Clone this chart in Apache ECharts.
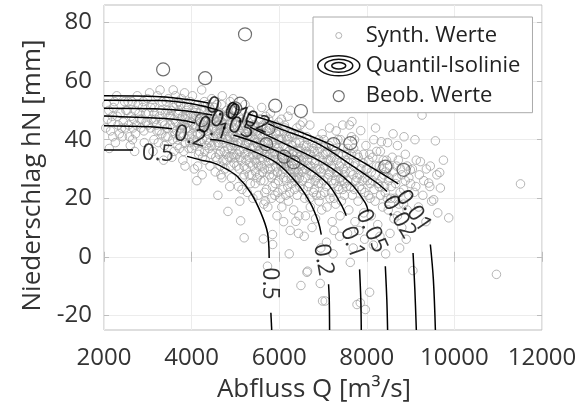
<!DOCTYPE html>
<html>
<head>
<meta charset="utf-8">
<script src="https://cdn.jsdelivr.net/npm/echarts@6/dist/echarts.min.js"></script>
<style>
  html, body { margin: 0; padding: 0; background: #fff; }
  #chart { width: 588px; height: 408px; }
</style>
</head>
<body>
<div id="chart"></div>
<script>
// Achsenbeschriftung
const xTicks = [2000, 4000, 6000, 8000, 10000, 12000]
const yTicks = [-20, 0, 20, 40, 60, 80]

// synthetische Werte [Q, hN]
const synthValues = [
  [2080,47],[2150,43],[2210,51],[2260,39],[2320,45],[2380,49],[2420,41],[2470,53],[2120,37],[2290,55],[2440,46],[2190,48],[2350,42],[2060,52],[2480,44],
  [2530,50],[2560,45],[2600,38],[2640,53],[2680,47],[2720,42],[2760,55],[2800,49],[2840,44],[2880,51],[2920,39],[2960,46],[2580,41],[2700,36],[2780,52],[2860,47],[2990,54],[2620,48],[2740,45],[2910,43],
  [3020,49],[3060,44],[3100,52],[3140,40],[3180,47],[3220,55],[3260,43],[3300,50],[3340,46],[3380,38],[3420,53],[3460,41],[3490,48],[3040,56],[3120,36],[3200,45],[3280,57],[3320,42],[3400,49],[3440,44],[3080,47],[3160,51],[3360,33],[3240,39],[3470,54],
  [2040,44],[2110,50],[2170,46],[2240,53],[2300,48],[2400,44],[2500,50],[2550,53],[2660,44],[2710,50],[2820,47],[2900,53],[2950,49],[3010,45],[3070,51],[3150,49],[3210,43],[3270,48],[3330,53],[3390,45],[3450,50],[2200,41],[2650,40],[3130,46],[3410,41],
  [3510,45],[3540,50],[3570,40],[3600,47],[3630,55],[3660,43],[3690,49],[3720,37],[3750,52],[3780,45],[3810,41],[3840,56],[3870,48],[3900,44],[3930,51],[3960,39],[3990,46],[3550,34],[3620,42],[3700,53],[3760,47],[3820,36],[3880,50],[3940,43],[3580,57],[3680,40],[3740,44],[3850,31],[3910,48],[3970,53],
  [3520,48],[3560,44],[3590,51],[3640,46],[3670,38],[3710,50],[3730,42],[3770,54],[3790,48],[3830,45],[3860,39],[3890,52],[3920,46],[3950,41],[3980,49],[3600,36],[3800,33],[3650,52],[3850,47],[3940,37],
  [4010,42],[4040,48],[4070,38],[4100,45],[4130,52],[4160,35],[4190,44],[4220,50],[4250,40],[4280,47],[4310,33],[4340,43],[4370,49],[4400,37],[4430,46],[4460,54],[4490,41],[4020,55],[4060,30],[4110,39],[4150,47],[4200,42],[4240,28],[4290,53],[4330,38],[4380,44],[4420,31],[4470,48],[4050,44],[4090,50],[4180,36],[4260,45],[4350,40],[4410,51],[4450,35],[4480,44],[4120,26],[4230,57],[4320,46],[4390,42],
  [4030,45],[4080,52],[4140,42],[4170,49],[4210,39],[4270,43],[4300,50],[4360,46],[4410,39],[4440,49],[4490,47],[4000,37],[4140,31],[4300,36],[4460,38],[4050,40],[4210,46],[4360,52],[4250,34],[4100,48],
  [4510,44],[4530,38],[4560,49],[4580,33],[4610,42],[4630,47],[4660,36],[4680,52],[4710,40],[4730,45],[4760,30],[4780,43],[4810,48],[4830,37],[4860,41],[4880,53],[4910,34],[4930,46],[4960,39],[4980,44],[4540,29],[4590,41],[4640,45],[4690,27],[4740,39],[4790,35],[4840,45],[4890,31],[4940,42],[4990,50],[4520,51],[4570,46],[4620,38],[4670,43],[4720,33],[4770,48],[4820,40],[4870,24],[4920,37],[4970,32],[4600,21],[4830,15.5],[4700,55],[4950,54],[4650,31],
  [4515,47],[4545,42],[4575,52],[4605,45],[4625,35],[4655,49],[4685,41],[4715,47],[4745,36],[4775,44],[4805,33],[4835,49],[4865,44],[4895,38],[4925,48],[4955,35],[4985,41],[4550,34],[4610,39],[4670,28],[4730,43],[4790,41],[4850,34],[4910,27],[4970,38],[4560,43],[4700,46],[4800,50],[4900,42],
  [5010,41],[5040,35],[5060,46],[5090,30],[5110,39],[5140,44],[5160,27],[5190,37],[5210,42],[5240,33],[5260,48],[5290,36],[5310,40],[5340,25],[5360,44],[5390,31],[5410,38],[5440,45],[5460,29],[5490,35],[5020,50],[5070,24],[5120,12.3],[5150,47],[5200,6.5],[5230,38],[5270,22],[5320,34],[5370,28],[5420,43],[5470,39],[5030,38],[5080,43],[5130,33],[5180,41],[5250,30],[5300,46],[5350,37],[5400,20],[5450,33],[5480,42],[5100,19],[5330,50],[5220,52],[5380,41],
  [5015,45],[5045,39],[5075,48],[5105,34],[5135,42],[5165,46],[5195,31],[5225,45],[5255,39],[5285,43],[5315,28],[5345,41],[5375,47],[5405,35],[5435,40],[5465,44],[5495,27],[5030,31],[5090,36],[5150,23],[5210,35],[5270,41],[5330,32],[5390,37],[5450,25],[5000,34],[5100,45],[5200,28],[5300,39],[5400,45],[5480,32],
  [5510,38],[5530,31],[5560,42],[5580,26],[5610,36],[5630,45],[5660,30],[5680,39],[5710,23],[5730,34],[5760,41],[5780,28],[5810,37],[5830,20],[5860,33],[5880,44],[5910,25],[5930,35],[5960,29],[5980,40],[5540,47],[5590,34],[5640,6.1],[5690,48],[5740,17],[5790,45],[5847,7.6],[5850,4.2],[5733,-3.2],[5900,38],[5950,14],[5520,21],[5570,39],[5620,29],[5670,35],[5720,43],[5770,32],[5820,27],[5870,40],[5920,31],[5970,22],[5600,51],[5800,49],[5990,46],[5650,18],
  [5505,43],[5535,36],[5565,33],[5595,44],[5625,38],[5655,26],[5685,42],[5715,36],[5745,30],[5775,44],[5805,33],[5835,39],[5865,28],[5895,36],[5925,42],[5955,33],[5985,26],[5550,28],[5610,41],[5670,22],[5730,39],[5790,35],[5850,24],[5910,45],[5970,37],[5520,35],[5600,31],[5700,37],[5800,30],[5900,21],[5580,47],[5760,47],[5940,43],[5680,19],
  [6010,36],[6030,28],[6060,40],[6080,23],[6110,33],[6130,44],[6160,26],[6180,37],[6210,19],[6230,31],[6260,42],[6280,25],[6310,35],[6330,16],[6360,29],[6380,39],[6410,21],[6430,33],[6460,27],[6480,45],[6229,1.0],[6381,12.1],[6496,-9.8],[6050,47],[6100,12],[6150,32],[6200,48],[6250,9],[6300,38],[6350,23],[6400,44],[6450,14],[6020,20],[6070,34],[6120,30],[6170,41],[6220,36],[6270,30],[6320,27],[6370,33],[6420,37],[6470,24],[6040,31],[6260,50],[6440,8],
  [6015,40],[6045,35],[6075,29],[6105,43],[6135,37],[6165,31],[6195,24],[6225,41],[6255,34],[6285,38],[6315,30],[6345,42],[6375,26],[6405,35],[6435,29],[6465,39],[6495,31],[6030,32],[6090,38],[6150,21],[6210,34],[6270,27],[6330,36],[6390,30],[6450,34],[6000,43],[6100,27],[6200,40],[6300,31],[6400,27],[6480,36],[6120,45],[6290,41],[6460,42],[6060,17],[6240,22],
  [6510,33],[6530,26],[6560,38],[6580,20],[6610,30],[6630,41],[6660,24],[6680,35],[6710,17],[6730,28],[6760,39],[6780,22],[6810,32],[6830,13],[6860,27],[6880,36],[6910,19],[6930,30],[6960,25],[6980,42],[6571,7.0],[6633,-5.3],[6647,-4.9],[6937,-9.1],[6990,-15.1],[6540,46],[6600,14],[6650,33],[6700,45],[6750,10],[6800,36],[6850,21],[6900,40],[6950,3],[6520,29],[6620,36],[6720,31],[6820,26],[6920,34],[6970,16],
  [6505,37],[6535,30],[6565,34],[6595,27],[6625,38],[6655,31],[6685,25],[6715,35],[6745,29],[6775,37],[6805,23],[6835,33],[6865,30],[6895,25],[6925,37],[6955,29],[6985,33],[6550,23],[6650,40],[6750,33],[6850,38],[6950,21],[6600,35],[6800,28],[6700,20],
  [7010,30],[7040,22],[7060,35],[7090,17],[7110,27],[7140,38],[7160,20],[7190,31],[7210,12],[7240,25],[7260,34],[7290,18],[7310,29],[7340,40],[7360,23],[7390,14],[7410,32],[7440,26],[7460,37],[7490,21],[7051,-15.1],[7080,5],[7150,44],[7230,1],[7300,43],[7380,7],[7450,45],[7020,40],[7120,33],[7200,26],[7280,36],[7350,29],[7420,19],[7480,28],[7250,9],
  [7015,26],[7045,31],[7075,24],[7105,36],[7135,28],[7165,33],[7195,22],[7225,30],[7255,37],[7285,26],[7315,33],[7345,24],[7375,31],[7405,27],[7435,35],[7465,30],[7495,25],[7050,38],[7150,29],[7250,20],[7350,35],[7450,23],[7000,35],[7200,34],[7400,40],
  [7510,33],[7540,24],[7570,37],[7590,16],[7620,29],[7650,41],[7670,21],[7700,31],[7730,12],[7750,26],[7780,35],[7800,19],[7830,28],[7861,43.1],[7880,23],[7910,32],[7930,15],[7960,27],[7980,38],[7623,-1.9],[7661,46.2],[7851,-15.7],[7966,-18.0],[7776,-16.3],[7560,8],[7690,3],[7820,9],[7950,6],[7600,45],[7720,40],
  [7505,29],[7535,35],[7565,26],[7595,32],[7625,24],[7655,35],[7685,28],[7715,23],[7745,32],[7775,27],[7805,34],[7835,24],[7865,30],[7895,26],[7925,35],[7955,22],[7985,30],[7700,37],
  [8010,30],[8040,21],[8070,35],[8100,14],[8130,26],[8160,40],[8190,19],[8220,31],[8250,11],[8280,24],[8310,36],[8331,39.3],[8360,17],[8390,28],[8420,22],[8450,33],[8475,39],[8064,-12.1],[8150,4],[8300,7],[8430,1],[8200,44],[8080,25],[8340,30],[8490,16],
  [8015,26],[8045,33],[8075,20],[8105,29],[8135,34],[8165,23],[8195,28],[8225,36],[8255,25],[8285,31],[8315,21],[8345,27],[8375,33],[8405,24],[8435,29],[8465,20],[8495,26],
  [8510,27],[8550,20],[8580,34],[8620,13],[8660,25],[8700,38],[8730,18],[8770,30],[8800,10],[8840,23],[8880,35],[8920,16],[8960,27],[8994,29.7],[8600,42],[8750,3],[8900,6],[8680,31],[8850,41],[8530,8],
  [8520,31],[8560,24],[8600,29],[8640,20],[8680,27],[8720,33],[8760,22],[8800,28],[8840,18],[8880,26],[8920,31],[8960,21],[9000,25],[9040,30],[9120,24],[9200,28],[9280,21],[9360,30],[9440,24],[8700,14],
  [9053,-4.7],[9080,22],[9130,33],[9180,17],[9223,32.5],[9261,48.4],[9300,26],[9350,12],[9413,25.2],[9450,31],[9100,40],[9480,19],
  [9527,19.5],[9566,39.6],[9600,28],[9664,28.8],[9680,23.5],[9870,13.3],[9750,33],[9620,15],
  [10960,-6.0],[11509,24.9]
]

// beobachtete Werte [Q, hN]
const obsValues = [
  [3350,64],[5220,76],[4310,61],[5109,52.3],[5909,51.6],[6496,49.8],[5755,43.9],[5703,38.5],
  [6114,34.2],[6327,32.3],[7241,38.5],[7623,38.8],[8423,30.8],[8841,29.7],[4233,46.7],[4994,50.7]
]

// Quantil-Isolinien, je Niveau Teilstücke (Lücken für die Beschriftung)
const isoLevels = ['0.01', '0.02', '0.05', '0.1', '0.2', '0.5']
const iso001 = [
  [[2000,55.0],[3280,54.7],[4034,53.5],[4377,52.5]],
  [[5291,48.8],[5794,46.4],[6251,44.0],[7234,37.9],[8080,30.8],[8720,24.9]],
  [[9451,4.2],[9520,-7.8],[9566,-25]]
]
const iso002 = [
  [[2000,53.5],[3280,53.4],[4034,52.2],[4606,50.1]],
  [[5749,45.4],[6023,43.7],[6862,38.8],[7698,30.8],[8233,25.2],[8462,22.3]],
  [[9056,1.3],[9097,-11.2],[9131,-25]]
]
const iso005 = [
  [[2000,50.7],[3280,50.5],[3897,49.8],[4469,48.4]],
  [[5337,44.3],[6098,38.8],[7013,32.0],[7623,25.2],[7966,18.4],[8034,15.4]],
  [[8423,-3.2],[8457,-14.6],[8475,-25]]
]
const iso01 = [
  [[2000,48.1],[3280,47.3],[3737,46.7],[4080,45.7]],
  [[4955,41.6],[5719,37.6],[6480,32.0],[7090,25.2],[7394,18.4],[7531,14.0]],
  [[7835,-4.3],[7863,-14.6],[7874,-25]]
]
const iso02 = [
  [[2000,44.8],[3051,44.4],[3554,43.7]],
  [[4423,40.1],[4690,39.6],[5337,36.5],[5947,32.0],[6405,25.2],[6709,18.4],[6891,12.0],[6960,7.6]],
  [[7127,-9.4],[7143,-14.6],[7150,-25]]
]
const iso05 = [
  [[2000,36.5],[2663,36.5]],
  [[3897,34.3],[4194,33.1],[4514,32.0],[4789,30.0],[5047,27.4],[5353,21.8],[5582,15.0],[5733,8.2],[5771,-0.4]],
  [[5810,-19.1],[5829,-25]]
]
const isoLines = [iso001, iso002, iso005, iso01, iso02, iso05]

// Beschriftungen der Isolinien [Q, hN, Text]
const isoLabelValues = [
  [3230,35.2,'0.5'],[5770,-9.1,'0.5'],
  [3966,41.0,'0.2'],[7005,-1.0,'0.2'],
  [4491,43.7,'0.1'],[7669,4.9,'0.1'],
  [4926,45.0,'0.05'],[8103,8.8,'0.05'],
  [5291,47.1,'0.02'],[8731,13.5,'0.02'],
  [4834,49.8,'0.01'],[9063,15.6,'0.01']
]
const isoLabelRotate = [-3, -90, -15, -80, -18, -70, -20, -65, -22, -60, -18, -55]

const FONT = "'Open Sans', 'Noto Sans', sans-serif"
const TEXT = '#333'
const AXIS_LINE = '#bdbdbd'

const chart = echarts.init(document.getElementById('chart'), null, { renderer: 'canvas' })

const mirrorAxis = {
  axisLine: { show: false },
  axisTick: { show: true, inside: true, length: 5, lineStyle: { color: AXIS_LINE } },
  axisLabel: { show: false },
  splitLine: { show: false }
}

const lineSeries = []
isoLines.forEach(level => {
  level.forEach(seg => {
    lineSeries.push({
      name: 'Quantil-Isolinie',
      type: 'line',
      data: seg,
      smooth: 0.35,
      symbol: 'none',
      silent: true,
      z: 3,
      lineStyle: { color: '#000', width: 1.5 },
      itemStyle: { color: '#000' }
    })
  })
})

const synthIcon = 'path://M0 0M44 22M19 11a3 3 0 1 0 6 0a3 3 0 1 0 -6 0Z'
const obsIcon = 'path://M0 0M44 22M16.5 11a5.5 5.5 0 1 0 11 0a5.5 5.5 0 1 0 -11 0Z'
const isoIcon = 'path://M0 0M44 22M1 11a21 10 0 1 0 42 0a21 10 0 1 0 -42 0ZM8 11a14 6.5 0 1 0 28 0a14 6.5 0 1 0 -28 0ZM15 11a7 3.2 0 1 0 14 0a7 3.2 0 1 0 -14 0Z'

const option = {
  animation: false,
  textStyle: { fontFamily: FONT },
  grid: {
    left: 104, right: 46, top: 5, bottom: 78,
    show: true, borderColor: AXIS_LINE, borderWidth: 1
  },
  legend: {
    orient: 'vertical',
    left: 313,
    top: 17,
    padding: [7, 12, 5, 3],
    itemWidth: 44,
    itemHeight: 22,
    itemGap: 7,
    itemTextGap: 2,
    selectedMode: false,
    backgroundColor: '#fff',
    borderColor: '#aaa',
    borderWidth: 1,
    textStyle: { fontFamily: FONT, fontSize: 22, color: '#222', lineHeight: 22 },
    data: [
      { name: 'Synth. Werte', icon: synthIcon, itemStyle: { color: 'rgba(0,0,0,0)', borderColor: '#a0a0a0', borderWidth: 1 } },
      { name: 'Quantil-Isolinie', icon: isoIcon, itemStyle: { color: 'rgba(0,0,0,0)', borderColor: '#111', borderWidth: 1.5 } },
      { name: 'Beob. Werte', icon: obsIcon, itemStyle: { color: 'rgba(0,0,0,0)', borderColor: '#4a4a4a', borderWidth: 1.2 } }
    ]
  },
  xAxis: [{
    type: 'value',
    min: 2000,
    max: 12000,
    interval: 2000,
    name: 'Abfluss Q [m³/s]',
    nameLocation: 'middle',
    nameGap: 47,
    nameTextStyle: { fontFamily: FONT, fontSize: 26, color: TEXT, padding: [0, 18, 0, 0] },
    axisLine: { show: false },
    axisTick: { show: true, inside: true, length: 5, lineStyle: { color: AXIS_LINE } },
    axisLabel: { fontFamily: FONT, fontSize: 24, color: TEXT, margin: 16, customValues: xTicks, formatter: v => String(v) },
    splitLine: { show: true, lineStyle: { color: '#ececec', width: 1 } }
  }, Object.assign({ type: 'value', position: 'top', min: 2000, max: 12000, interval: 2000 }, mirrorAxis)],
  yAxis: [{
    type: 'value',
    min: -25,
    max: 86,
    name: 'Niederschlag hN [mm]',
    nameLocation: 'middle',
    nameGap: 54,
    nameTextStyle: { fontFamily: FONT, fontSize: 26, color: TEXT, padding: [0, 16, 0, 0] },
    axisLine: { show: false },
    axisTick: { show: true, inside: true, length: 5, lineStyle: { color: AXIS_LINE }, customValues: yTicks },
    axisLabel: { fontFamily: FONT, fontSize: 24, color: TEXT, margin: 12, customValues: yTicks },
    splitLine: { show: true, lineStyle: { color: '#ececec', width: 1 } }
  }, Object.assign({ type: 'value', position: 'right', min: -25, max: 86 }, mirrorAxis, {
    axisTick: { show: true, inside: true, length: 5, lineStyle: { color: AXIS_LINE }, customValues: yTicks }
  })],
  series: [
    {
      name: 'Synth. Werte',
      type: 'scatter',
      data: synthValues,
      symbol: 'circle',
      symbolSize: 8.5,
      silent: true,
      z: 2,
      itemStyle: { color: 'rgba(0,0,0,0)', borderColor: '#a3a3a3', borderWidth: 1 }
    },
    ...lineSeries,
    {
      name: 'Beob. Werte',
      type: 'scatter',
      data: obsValues,
      symbol: 'circle',
      symbolSize: 13,
      silent: true,
      z: 4,
      itemStyle: { color: 'rgba(0,0,0,0)', borderColor: '#4a4a4a', borderWidth: 1.2 }
    },
    {
      name: 'Isolinien-Beschriftung',
      type: 'scatter',
      silent: true,
      z: 5,
      symbolSize: 1,
      itemStyle: { color: 'rgba(0,0,0,0)' },
      label: {
        show: true,
        position: 'inside',
        formatter: '{b}',
        fontFamily: FONT,
        fontSize: 23,
        color: '#000'
      },
      data: isoLabelValues.map((d, i) => ({
        name: d[2],
        value: [d[0], d[1]],
        label: { rotate: isoLabelRotate[i] }
      }))
    }
  ]
}

chart.setOption(option)
</script>
</body>
</html>
